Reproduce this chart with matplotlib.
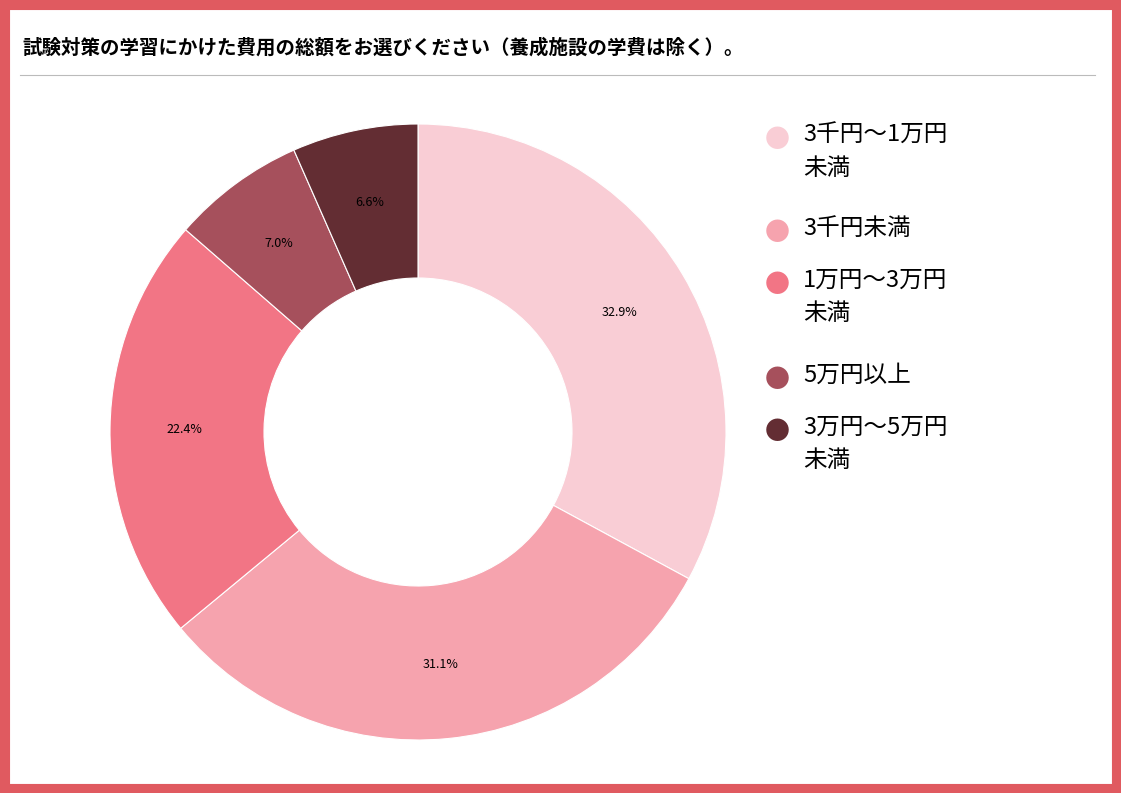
import matplotlib.pyplot as plt
import matplotlib.patches as patches
import numpy as np

plt.rcParams['font.family'] = ['Noto Sans CJK JP', 'DejaVu Sans']

labels = ['3千円〜1万円\n未満', '3千円未満', '1万円〜3万円\n未満', '5万円以上', '3万円〜5万円\n未満']
values = [32.9, 31.1, 22.4, 7.0, 6.6]
colors = ['#F9CDD5', '#F6A3AE', '#F27585', '#A6505C', '#632D33']
title = '試験対策の学習にかけた費用の総額をお選びください（養成施設の学費は除く）。'

W, H = 1121, 793
fig = plt.figure(figsize=(W / 100, H / 100), dpi=100)

# red frame
fig.patches.append(patches.Rectangle((0.004, 0.005), 0.992, 0.99, transform=fig.transFigure,
                                     fill=False, edgecolor='#E05A60', linewidth=8))
fig.text(22 / W, 1 - 48 / H, title, fontsize=14, fontweight='bold', va='center', ha='left')
fig.add_artist(plt.Line2D([20 / W, 1095 / W], [1 - 75 / H] * 2, color='#BBBBBB', lw=0.8,
                          transform=fig.transFigure))

ax = fig.add_axes([110 / W, 53 / H, 616 / W, 616 / H])
wedges, texts = ax.pie(values, colors=colors, startangle=90, counterclock=False,
                       wedgeprops=dict(width=0.5, edgecolor='white', linewidth=0.8))
for w, v in zip(wedges, values):
    ang = np.deg2rad((w.theta1 + w.theta2) / 2)
    ax.text(0.76 * np.cos(ang), 0.76 * np.sin(ang), f'{v:.1f}%', ha='center', va='center', fontsize=9)
ax.set_xlim(-1, 1)
ax.set_ylim(-1, 1)
ax.set_aspect('equal')

# legend
ys = [140, 233, 285, 380, 432]
for y, lab, c in zip(ys, labels, colors):
    fig.text(777 / W, 1 - y / H, '●', color=c, fontsize=18, ha='center', va='center')
    fig.text(803 / W, 1 - (y - 16) / H, lab, fontsize=17, ha='left', va='top', linespacing=1.55)

fig.savefig('out.png', dpi=100)
